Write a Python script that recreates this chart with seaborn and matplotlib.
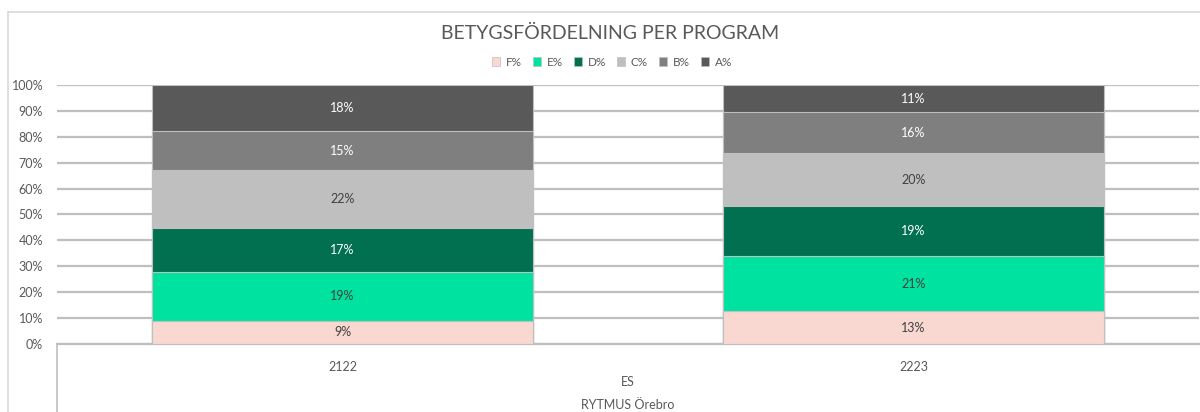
import numpy as np
import pandas as pd
import matplotlib.pyplot as plt
import seaborn as sns
from matplotlib.patches import Patch
from matplotlib.lines import Line2D

# ==============================
# DATA
# ==============================
years = ["2122", "2223"]
grades = ["F%", "E%", "D%", "C%", "B%", "A%"]
f_pct = [8.9, 12.7]
e_pct = [19.0, 21.2]
d_pct = [17.0, 19.4]
c_pct = [22.1, 20.3]
b_pct = [15.4, 15.8]
a_pct = [17.6, 10.6]
program = "ES"
school = "RYTMUS Örebro"
title = "BETYGSFÖRDELNING PER PROGRAM"

colors = {"F%": "#F8D8D0", "E%": "#00E29F", "D%": "#007050",
          "C%": "#BFBFBF", "B%": "#7F7F7F", "A%": "#595959"}
label_colors = {"F%": "#404040", "E%": "#404040", "D%": "white",
                "C%": "#404040", "B%": "white", "A%": "white"}
TXT = "#595959"

sns.set_theme(style="white")
plt.rcParams["font.family"] = ["Lato", "DejaVu Sans"]

df = pd.DataFrame({"year": years, "F%": f_pct, "E%": e_pct, "D%": d_pct,
                   "C%": c_pct, "B%": b_pct, "A%": a_pct})
cum = df[grades].cumsum(axis=1) / 100.0

fig = plt.figure(figsize=(12, 4.12), dpi=100)
ax = fig.add_axes([57 / 1200, 1 - 344 / 412, 1142 / 1200, (344 - 85) / 412])

# stacked bars: draw cumulative totals from top to bottom
for g in reversed(grades):
    sns.barplot(x=df["year"], y=cum[g], color=colors[g], width=0.667,
                saturation=1, edgecolor="#BFBFBF", linewidth=0.8, ax=ax,
                zorder=3)

# segment labels
for i in range(len(years)):
    base = 0.0
    for g in grades:
        v = df.loc[i, g] / 100.0
        ax.text(i, base + v / 2, f"{round(df.loc[i, g]):.0f}%", ha="center",
                va="center", fontsize=9, color=label_colors[g], zorder=5)
        base += v

ax.set_ylim(0, 1)
ax.set_xlim(-0.5, 1.5)
ax.set_yticks(np.arange(0, 1.01, 0.1))
ax.set_yticklabels([f"{int(t)}%" for t in np.arange(0, 101, 10)])
ax.yaxis.grid(True, color="#BFBFBF", linewidth=1.6, zorder=0)
ax.set_axisbelow(True)
for s in ["left", "right", "top"]:
    ax.spines[s].set_visible(False)
ax.spines["bottom"].set_color("#BFBFBF")
ax.spines["bottom"].set_linewidth(1.6)
ax.tick_params(axis="y", length=0, labelsize=9, labelcolor=TXT, pad=10)
ax.tick_params(axis="x", length=0, labelsize=9, labelcolor=TXT, pad=12)
ax.set_xlabel("")
ax.set_ylabel("")

# multi-level category labels
fig.text(0.5 * (57 + 1199) / 1200, 1 - 382 / 412, program, ha="center",
         va="center", fontsize=9, color=TXT)
fig.text(0.5 * (57 + 1199) / 1200, 1 - 405 / 412, school, ha="center",
         va="center", fontsize=9, color=TXT)
fig.add_artist(Line2D([57 / 1200, 57 / 1200], [1 - 344 / 412, 0],
                      color="#BFBFBF", linewidth=1.2))

# chart border
fig.add_artist(Line2D([8 / 1200, 8 / 1200], [1 - 12 / 412, 0],
                      color="#D9D9D9", linewidth=1.2))
fig.add_artist(Line2D([8 / 1200, 1], [1 - 12 / 412, 1 - 12 / 412],
                      color="#D9D9D9", linewidth=1.2))

fig.text(610 / 1200, 1 - 33 / 412, title, ha="center",
         va="center", fontsize=14, color=TXT)

handles = [Patch(facecolor=colors[g], edgecolor="#BFBFBF", linewidth=0.5,
                 label=g) for g in grades]
fig.legend(handles=handles, loc="center", bbox_to_anchor=(612 / 1200, 1 - 62 / 412),
           ncol=6, frameon=False, fontsize=8.5, handlelength=0.7,
           handleheight=0.7, handletextpad=0.5, columnspacing=0.9,
           labelcolor=TXT)

plt.savefig("out.png", dpi=100)
